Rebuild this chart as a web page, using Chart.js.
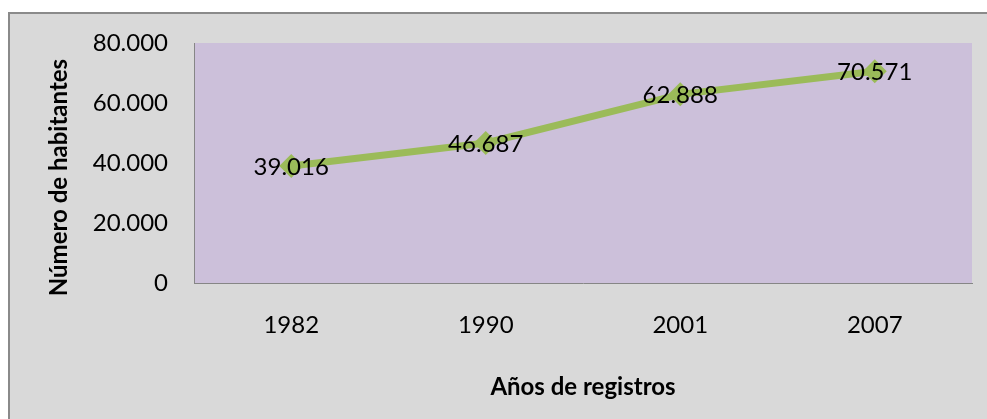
<!DOCTYPE html>
<html>
<head>
<meta charset="utf-8">
<script src="https://cdn.jsdelivr.net/npm/chart.js@4/dist/chart.umd.min.js"></script>
<style>
  html, body { margin: 0; padding: 0; background: #fff; }
  #frame { position: absolute; left: 8px; top: 12px; width: 1000px; height: 420px;
           background: #d9d9d9; border: 2px solid #8a8a8a; box-sizing: border-box; }
  #wrap { position: absolute; left: 0; top: 0; width: 987px; height: 419px; }
</style>
</head>
<body>
<div id="frame"></div>
<div id="wrap"><canvas id="chart"></canvas></div>
<script>
const years = ['1982', '1990', '2001', '2007'];
const habitantes = [39016, 46687, 62888, 70571];
const yTicks = [0, 20000, 40000, 60000, 80000];

function miles(v) {
  // 39016 -> 39.016
  return String(v).replace(/\B(?=(\d{3})+(?!\d))/g, '.');
}

const plotBg = {
  id: 'plotBg',
  beforeDraw(chart) {
    const a = chart.chartArea, ctx = chart.ctx;
    ctx.save();
    ctx.fillStyle = '#ccc0da';
    ctx.fillRect(a.left, a.top, a.right - a.left, a.bottom - a.top);
    ctx.restore();
  }
};

const valueLabels = {
  id: 'valueLabels',
  afterDatasetsDraw(chart) {
    const ctx = chart.ctx;
    const meta = chart.getDatasetMeta(0);
    ctx.save();
    ctx.font = '24px Lato';
    ctx.fillStyle = '#000';
    ctx.textAlign = 'center';
    ctx.textBaseline = 'middle';
    meta.data.forEach((pt, i) => {
      ctx.fillText(miles(habitantes[i]), pt.x, pt.y + 1);
    });
    ctx.restore();
  }
};

new Chart(document.getElementById('chart'), {
  type: 'line',
  data: {
    labels: years,
    datasets: [{
      data: habitantes,
      borderColor: '#9bbb59',
      backgroundColor: '#9bbb59',
      borderWidth: 7,
      pointStyle: 'rectRot',
      pointRadius: 12,
      pointBorderWidth: 0,
      tension: 0
    }]
  },
  options: {
    responsive: true,
    maintainAspectRatio: false,
    animation: false,
    layout: { padding: { left: 45, top: 43, right: 15, bottom: 0 } },
    plugins: { legend: { display: false }, tooltip: { enabled: false } },
    scales: {
      x: {
        offset: true,
        grid: { display: false, drawTicks: false },
        border: { display: true, color: '#868686', width: 1 },
        ticks: { color: '#000', font: { family: 'Lato', size: 24 }, padding: 28 },
        title: { display: true, text: 'Años de registros', color: '#000',
                 font: { family: 'Lato', size: 24, weight: 'bold' }, padding: { bottom: 17 } },
        afterFit(scale) { scale.height = 136; }
      },
      y: {
        min: 0,
        max: 80000,
        grid: { display: false, drawTicks: false },
        border: { display: true, color: '#868686', width: 1 },
        afterBuildTicks(scale) { scale.ticks = yTicks.map(v => ({ value: v })); },
        ticks: { color: '#000', font: { family: 'Lato', size: 24 }, padding: 26,
                 callback: (v) => miles(v) },
        // trailing spaces push the rotated title a little lower, as in the original
        title: { display: true, text: 'Número de habitantes     ', color: '#000',
                 font: { family: 'Lato', size: 24, weight: 'bold' }, padding: 0 },
        afterFit(scale) { scale.width = 149; }
      }
    }
  },
  plugins: [plotBg, valueLabels]
});
</script>
</body>
</html>
